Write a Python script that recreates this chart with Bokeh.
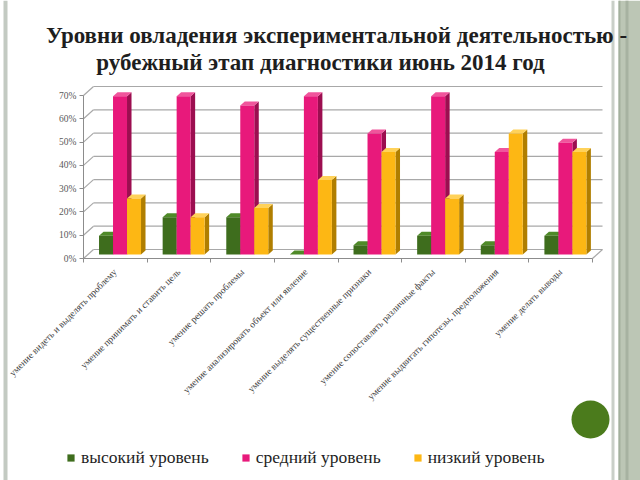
from bokeh.plotting import figure
from bokeh.models import (ColumnDataSource, FixedTicker, NumeralTickFormatter, Range1d,
                          LinearAxis, Label, Legend, LegendItem)
from bokeh.embed import file_html
from bokeh.resources import INLINE
from math import pi

title_lines = ["Уровни овладения экспериментальной деятельностью -",
               "рубежный этап диагностики июнь 2014 год"]
categories = ["умение видеть и выделять проблему",
              "умение принимать и ставить цель",
              "умение решать проблемы",
              "умение анализировать объект или явление",
              "умение выделять существенные признаки",
              "умение сопоставлять различные факты",
              "умение выдвигать гипотезы, предположения",
              "умение делать выводы"]
series_names = ["высокий уровень", "средний уровень", "низкий уровень"]
high = [0.08, 0.16, 0.16, 0.00, 0.04, 0.08, 0.04, 0.08]
mid = [0.68, 0.68, 0.64, 0.68, 0.52, 0.68, 0.44, 0.48]
low = [0.24, 0.16, 0.20, 0.32, 0.44, 0.24, 0.52, 0.44]
y_ticks = [0.0, 0.1, 0.2, 0.3, 0.4, 0.5, 0.6, 0.7]

front_colors = ["#3e6d1d", "#e8197b", "#fdb714"]
side_colors = ["#2a4b12", "#9c0e50", "#b07e00"]
top_colors = ["#4f8a28", "#f0559c", "#ffd25a"]

SERIF = "'Liberation Serif', 'Times New Roman', serif"

W, H = 640, 480
FL, FB = 83, 258                     # chart origin in canvas px
n = len(categories)
GX = (592 - FL) / n                  # px per category group
YPX = (FB - 95) / 0.7                # px per unit value

# main ranges = canvas pixels (y downwards) for slide decorations
p = figure(width=W, height=H, output_backend="svg", toolbar_location=None,
           x_range=Range1d(0, W), y_range=Range1d(H, 0),
           x_axis_location=None, y_axis_location=None,
           min_border=0, min_border_left=0, min_border_right=0,
           min_border_top=0, min_border_bottom=0)
p.outline_line_color = None
p.background_fill_color = "white"
p.border_fill_color = "white"
p.xgrid.visible = False
p.ygrid.visible = False

# chart ranges
p.extra_x_ranges = {"grp": Range1d(-FL / GX, (W - FL) / GX)}
p.extra_y_ranges = {"pct": Range1d((FB - H) / YPX, FB / YPX)}
R = dict(x_range_name="grp", y_range_name="pct")

# slide decorations
p.quad(left=[3], right=[7], top=[0], bottom=[H], fill_color="#c3cac2", line_color=None)
p.quad(left=[611], right=[614], top=[0], bottom=[H], fill_color="#c9cfc8", line_color=None)
p.quad(left=[618], right=[W], top=[0], bottom=[H], fill_color="#bcc6b5", line_color=None)
p.quad(left=[618], right=[620], top=[0], bottom=[H], fill_color="#a3b09d", line_color=None)
p.quad(left=[625], right=[628], top=[0], bottom=[H], fill_color="#a7b2a1", line_color=None)
p.circle(x=[590], y=[419], radius=19, fill_color="#4b7b1c", line_color=None)

# back-wall gridlines (3D look)
gdx = 10 / GX
gdy = 9 / YPX
m = len(y_ticks)
p.segment(x0=[0] * m, y0=y_ticks, x1=[gdx] * m, y1=[t + gdy for t in y_ticks],
          line_color="#a8a8a8", line_width=1.2, **R)
p.segment(x0=[gdx] * m, y0=[t + gdy for t in y_ticks], x1=[n + gdx] * m,
          y1=[t + gdy for t in y_ticks], line_color="#a8a8a8", line_width=1.2, **R)
p.segment(x0=[n], y0=[0], x1=[n + gdx], y1=[gdy], line_color="#a8a8a8", line_width=1.2, **R)

# bars with 3D side/top faces
bw = 0.22
off = 0.244
b0 = 4 / YPX
sdx = 4.5 / GX
sdy = 4 / YPX
renderers = []
for k, vals in enumerate([high, mid, low]):
    xl = [i + off + k * bw for i in range(n)]
    xr = [x + bw for x in xl]
    side_xs = [[r, r + sdx, r + sdx, r] for r in xr]
    side_ys = [[b0, b0 + sdy, v + b0 + sdy, v + b0] for v in vals]
    top_xs = [[l, l + sdx, r + sdx, r] for l, r in zip(xl, xr)]
    top_ys = [[v + b0, v + b0 + sdy, v + b0 + sdy, v + b0] for v in vals]
    p.patches(xs=side_xs, ys=side_ys, fill_color=side_colors[k], line_color=None, **R)
    p.patches(xs=top_xs, ys=top_ys, fill_color=top_colors[k], line_color=None, **R)
    src = ColumnDataSource(dict(x=[l + bw / 2 for l in xl], top=[v + b0 for v in vals],
                                bottom=[b0] * n))
    r = p.vbar(x="x", top="top", bottom="bottom", width=bw, source=src,
               fill_color=front_colors[k], line_color=None, **R)
    renderers.append(r)

# axes placed at the chart origin
yax = LinearAxis(fixed_location=0, **R)
yax.ticker = FixedTicker(ticks=y_ticks)
yax.formatter = NumeralTickFormatter(format="0%")
yax.bounds = (0, 0.7)
yax.axis_line_color = "#8c8c8c"
yax.major_tick_line_color = "#8c8c8c"
yax.major_tick_out = 4
yax.major_tick_in = 0
yax.minor_tick_line_color = None
yax.major_label_text_font = SERIF
yax.major_label_text_font_size = "9.5px"
yax.major_label_text_color = "#595959"
yax.major_label_standoff = 3
p.add_layout(yax, "left")

centers = [i + 0.5 for i in range(n)]
xax = LinearAxis(fixed_location=0, **R)
xax.ticker = FixedTicker(ticks=centers, minor_ticks=list(range(n + 1)))
xax.major_label_overrides = {c: lab for c, lab in zip(centers, categories)}
xax.major_label_orientation = pi / 4
xax.bounds = (0, n)
xax.axis_line_color = "#8c8c8c"
xax.major_tick_line_color = None
xax.minor_tick_line_color = "#8c8c8c"
xax.minor_tick_out = 4
xax.minor_tick_in = 0
xax.major_label_text_font = SERIF
xax.major_label_text_font_size = "9.5px"
xax.major_label_text_color = "#404040"
xax.major_label_standoff = 6
p.add_layout(xax, "below")

# title
p.add_layout(Label(x=336, y=35, text=title_lines[0], text_align="center",
                   text_baseline="middle", text_font=SERIF,
                   text_font_style="bold", text_font_size="23px", text_color="#1e1e1e"))
p.add_layout(Label(x=320, y=62, text=title_lines[1], text_align="center",
                   text_baseline="middle", text_font=SERIF,
                   text_font_style="bold", text_font_size="23px", text_color="#1e1e1e"))

# legend
legend = Legend(items=[LegendItem(label=nm, renderers=[r]) for nm, r in zip(series_names, renderers)],
                orientation="horizontal", location=(66, H - 468),
                glyph_width=9, glyph_height=9, label_standoff=6, spacing=32,
                padding=0, margin=0,
                label_text_font=SERIF, label_text_font_size="17.5px",
                label_text_color="#1e1e1e",
                border_line_color=None, background_fill_alpha=0)
p.add_layout(legend, "center")

open("out.html", "w").write(file_html(p, INLINE))
